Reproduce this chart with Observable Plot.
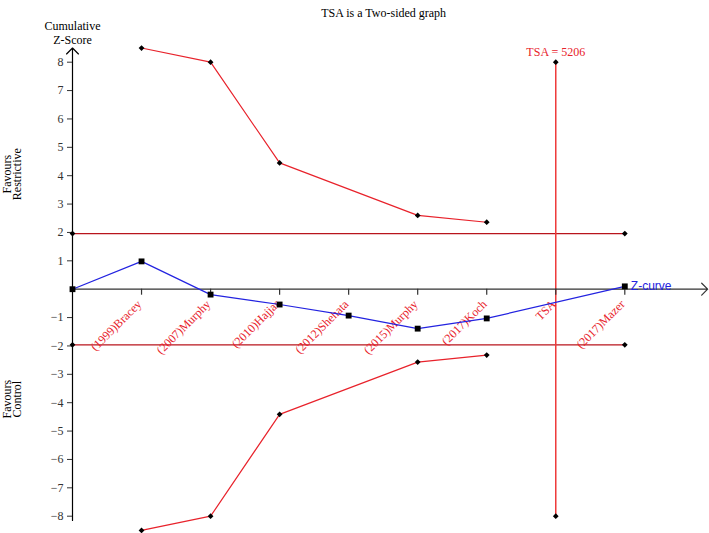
<!DOCTYPE html>
<html><head><meta charset="utf-8">
<script src="https://cdn.jsdelivr.net/npm/d3@7"></script>
<script src="https://cdn.jsdelivr.net/npm/@observablehq/plot@0.6"></script>
<style>body{margin:0;background:#fff} #chart svg{display:block} #chart svg text{font-family:'Liberation Serif','Times New Roman',serif}</style>
</head><body><div id="chart"></div>
<script>
// ---- data ----
const title = "TSA is a Two-sided graph";
const trials = ["(1999)Bracey","(2007)Murphy","(2010)Hajjar","(2012)Shehata","(2015)Murphy","(2017)Koch","TSA","(2017)Mazer"];
const trialPos = [1,2,3,4,5,6,7,8];
const zPos = [0,1,2,3,4,5,6,8];
const zValues = [0,0.98,-0.19,-0.54,-0.93,-1.39,-1.03,0.10];
const boundPos = [1,2,3,5,6];
const upperBound = [8.5,8.0,4.45,2.6,2.36];
const lowerBound = [-8.5,-8.0,-4.41,-2.57,-2.32];
const convBound = [1.96,-1.96];
const convPos = [0,8];
const tsaPos = 7;
const tsaValue = 5206;
const tsaRange = [-8,8];
const yTicks = [-8,-7,-6,-5,-4,-3,-2,-1,1,2,3,4,5,6,7,8];

const upper = boundPos.map((p,i)=>({x:p,y:upperBound[i]}));
const lower = boundPos.map((p,i)=>({x:p,y:lowerBound[i]}));
const zcurve = zPos.map((p,i)=>({x:p,y:zValues[i]}));
const convPts = convBound.flatMap(b=>convPos.map(p=>({x:p,y:b})));
const tsaPts = tsaRange.map(v=>({x:tsaPos,y:v}));
const labels = trialPos.map((p,i)=>({x:p,t:trials[i]}));

const serif = "'Liberation Serif','Times New Roman',serif";
const sans = "'Liberation Sans',Arial,sans-serif";
const red = "#e8222b";

const chart = Plot.plot({
  width: 709, height: 533,
  marginLeft: 72, marginRight: 84.7, marginTop: 61.7, marginBottom: 17.3,
  x: {domain:[0,8], axis:null},
  y: {domain:[-8,8], axis:null},
  style: {fontFamily: serif, fontSize: "12px", background: "#fff"},
  marks: [
    Plot.ruleY(convBound, {y: d=>d, x1: convPos[0], x2: convPos[1], stroke: "#b8141c", strokeWidth: 1.3}),
    Plot.line(upper, {x:"x", y:"y", stroke: red, strokeWidth: 1.2}),
    Plot.line(lower, {x:"x", y:"y", stroke: red, strokeWidth: 1.2}),
    Plot.ruleX([tsaPos], {x: d=>d, y1: tsaRange[0], y2: tsaRange[1], stroke: "#ee3a3a", strokeWidth: 1.5}),
    Plot.arrow([0], {x1: 0, y1: 0, x2: 9.2, y2: 0, stroke: "#333", strokeWidth: 1.2, headAngle: 90, headLength: 10.5}),
    Plot.ruleX(trialPos, {x: d=>d, y1: 0, y2: 0, insetBottom: -6, stroke: "#333", strokeWidth: 1.2}),
    Plot.arrow([0], {x1: 0, y1: -8.15, x2: 0, y2: 8.5, stroke: "#000", strokeWidth: 1.2, headAngle: 90, headLength: 10.5}),
    Plot.axisY(yTicks, {tickSize: 5, tickPadding: 4, color: "#333", fontSize: 12, fontFamily: serif, label: null, tickFormat: d=>d<0?"\u2212"+(-d):String(d)}),
    Plot.text(labels, {x:"x", y: 0, text:"t", rotate: -45, textAnchor: "end", dx: -2, dy: 13, fill: red, fontSize: 12, fontFamily: serif}),
    Plot.line(zcurve, {x:"x", y:"y", stroke: "#2323e0", strokeWidth: 1.2}),
    Plot.dot(convPts, {x:"x", y:"y", symbol:"diamond2", r: 2.6, fill:"#000", stroke: null}),
    Plot.dot(upper, {x:"x", y:"y", symbol:"diamond2", r: 2.6, fill:"#000", stroke: null}),
    Plot.dot(lower, {x:"x", y:"y", symbol:"diamond2", r: 2.6, fill:"#000", stroke: null}),
    Plot.dot(tsaPts, {x:"x", y:"y", symbol:"diamond2", r: 2.6, fill:"#000", stroke: null}),
    Plot.dot(zcurve, {x:"x", y:"y", symbol:"square", r: 3.3, fill:"#000", stroke: null}),
    Plot.text([`TSA = ${tsaValue}`], {x: tsaPos, y: tsaRange[1], dy: -10, fill: red, fontSize: 12, fontFamily: serif}),
    Plot.text(["Z-curve"], {x: zPos[zPos.length-1], y: zValues[zValues.length-1], dx: 6, textAnchor: "start", fill: "#2323e0", fontSize: 12, fontFamily: sans, className: "zlabel"}),
    Plot.text([title], {frameAnchor: "top", dx: 35, dy: -49, lineAnchor: "middle", fill: "#000", fontSize: 12, fontFamily: serif}),
    Plot.text(["Cumulative\nZ-Score"], {frameAnchor: "top-left", dy: -30, lineAnchor: "middle", textAnchor: "middle", lineHeight: 1.15, fill: "#000", fontSize: 12, fontFamily: serif}),
    Plot.text(["Favours\nRestrictive"], {frameAnchor: "left", dx: -60, dy: -115, rotate: -90, lineAnchor: "middle", textAnchor: "middle", lineHeight: 0.85, fill: "#000", fontSize: 12, fontFamily: serif}),
    Plot.text(["Favours\nControl"], {frameAnchor: "left", dx: -60, dy: 110, rotate: -90, lineAnchor: "middle", textAnchor: "middle", lineHeight: 0.85, fill: "#000", fontSize: 12, fontFamily: serif})
  ]
});
chart.querySelectorAll(".zlabel text, g.zlabel text").forEach(t=>t.style.fontFamily = sans);
document.getElementById("chart").append(chart);
</script>
</body></html>
